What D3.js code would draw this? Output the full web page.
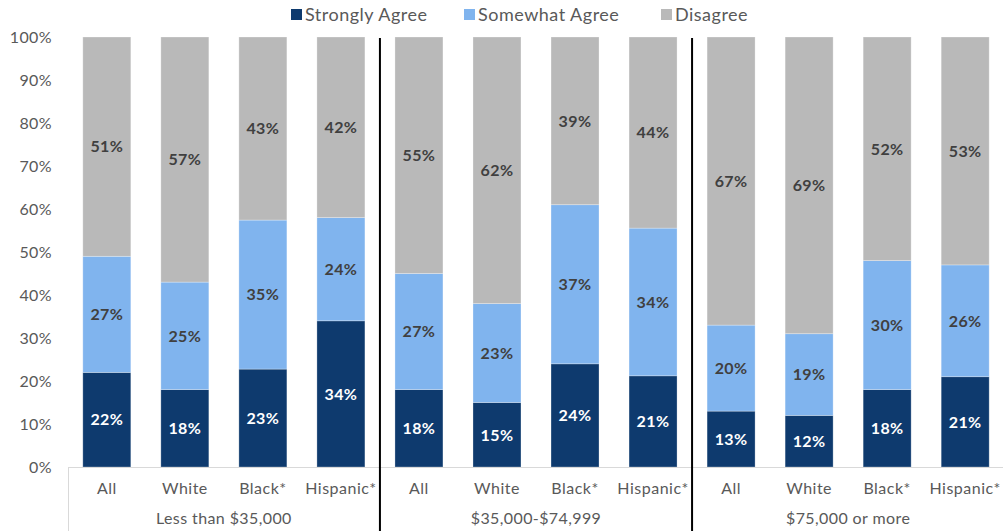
<!DOCTYPE html>
<html>
<head>
<meta charset="utf-8">
<script src="https://cdn.jsdelivr.net/npm/d3@7"></script>
<style>
  html, body { margin: 0; padding: 0; background: #fff; }
  svg { display: block; font-family: "Lato", "DejaVu Sans", sans-serif; }
</style>
</head>
<body>
<svg id="chart" width="1003" height="531"></svg>
<script>
// Survey responses by income bracket and race/ethnicity
const groups = ["Less than $35,000", "$35,000-$74,999", "$75,000 or more"];
const races = ["All", "White", "Black*", "Hispanic*"];
const seriesNames = ["Strongly Agree", "Somewhat Agree", "Disagree"];
const stronglyAgree = [22, 18, 23, 34, 18, 15, 24, 21, 13, 12, 18, 21];
const somewhatAgree = [27, 25, 35, 24, 27, 23, 37, 34, 20, 19, 30, 26];
const disagree     = [51, 57, 43, 42, 55, 62, 39, 44, 67, 69, 52, 53];
const yTicks = [0, 10, 20, 30, 40, 50, 60, 70, 80, 90, 100];

const colors = ["#0E3A6E", "#80B4EE", "#B9B9B9"];
const labelColors = ["#FFFFFF", "#404040", "#404040"];

const rows = [];
groups.forEach((g, gi) => races.forEach((r, ri) => {
  const i = gi * races.length + ri;
  rows.push({
    key: g + "|" + r, group: g, race: r,
    "Strongly Agree": stronglyAgree[i],
    "Somewhat Agree": somewhatAgree[i],
    "Disagree": disagree[i]
  });
}));

const svg = d3.select("#chart");
const margin = { left: 68, right: -1, top: 37, bottom: 64 };
const W = 1003, H = 531;
const plotBottom = H - margin.bottom;

const x = d3.scaleBand()
  .domain(rows.map(d => d.key))
  .range([margin.left, W - margin.right])
  .paddingInner(0.385)
  .paddingOuter(0.19);

const y = d3.scaleLinear().domain([0, 1]).range([plotBottom, margin.top]);

const stack = d3.stack().keys(seriesNames).offset(d3.stackOffsetExpand);
const stacked = stack(rows);

// bars
const layer = svg.append("g").selectAll("g")
  .data(stacked).join("g")
  .attr("fill", (d, i) => colors[i]);

layer.selectAll("rect")
  .data(d => d)
  .join("rect")
  .attr("x", d => x(d.data.key))
  .attr("width", x.bandwidth())
  .attr("y", d => y(d[1]))
  .attr("height", d => y(d[0]) - y(d[1]))
  .attr("stroke", "#ffffff")
  .attr("stroke-opacity", 0.35)
  .attr("stroke-width", 0.8);

// value labels
const labels = svg.append("g");
stacked.forEach((s, si) => {
  labels.selectAll(null)
    .data(s)
    .join("text")
    .attr("x", d => x(d.data.key) + x.bandwidth() / 2)
    .attr("y", d => (y(d[0]) + y(d[1])) / 2)
    .attr("dy", "0.36em")
    .attr("text-anchor", "middle")
    .attr("font-size", 16)
    .attr("font-weight", 700)
    .attr("letter-spacing", 0.4)
    .attr("fill", labelColors[si])
    .text(d => d.data[s.key] + "%");
});

// y axis labels
const yAxis = d3.axisLeft(d3.scaleLinear().domain([0, 100]).range([plotBottom, margin.top]))
  .tickValues(yTicks)
  .tickFormat(d => d + "%")
  .tickSize(0)
  .tickPadding(16);
const ya = svg.append("g").attr("transform", `translate(${margin.left},0)`).call(yAxis);
ya.select(".domain").remove();
ya.selectAll("text").attr("font-size", 16).attr("fill", "#595959")
  .attr("letter-spacing", 0.4)
  .attr("font-family", "Lato, sans-serif");

// category axis
const ax = svg.append("g");
ax.append("line")
  .attr("x1", margin.left).attr("x2", W)
  .attr("y1", plotBottom + 0.5).attr("y2", plotBottom + 0.5)
  .attr("stroke", "#D9D9D9").attr("stroke-width", 1);
ax.append("line")
  .attr("x1", margin.left + 0.5).attr("x2", margin.left + 0.5)
  .attr("y1", plotBottom).attr("y2", H)
  .attr("stroke", "#D9D9D9").attr("stroke-width", 1);

ax.selectAll("text.cat")
  .data(rows).join("text")
  .attr("class", "cat")
  .attr("x", d => x(d.key) + x.bandwidth() / 2)
  .attr("y", 494)
  .attr("text-anchor", "middle")
  .attr("font-size", 16)
  .attr("letter-spacing", 0.5)
  .attr("fill", "#595959")
  .text(d => d.race);

const step = x.step();
const groupSpan = g => {
  const keys = rows.filter(r => r.group === g).map(r => r.key);
  const x0 = x(keys[0]) - (step - x.bandwidth()) / 2;
  const x1 = x(keys[keys.length - 1]) + x.bandwidth() + (step - x.bandwidth()) / 2;
  return [x0, x1];
};

ax.selectAll("text.grp")
  .data(groups).join("text")
  .attr("class", "grp")
  .attr("x", g => d3.mean(groupSpan(g)))
  .attr("y", 524)
  .attr("text-anchor", "middle")
  .attr("font-size", 16)
  .attr("letter-spacing", 0.4)
  .attr("fill", "#595959")
  .text(g => g);

// group separators
svg.append("g").selectAll("line")
  .data(groups.slice(1)).join("line")
  .attr("x1", g => groupSpan(g)[0])
  .attr("x2", g => groupSpan(g)[0])
  .attr("y1", margin.top + 1)
  .attr("y2", H)
  .attr("stroke", "#000")
  .attr("stroke-width", 2);

// legend
const legend = svg.append("g").attr("transform", "translate(291,0)");
const legendX = [0, 173, 370];
seriesNames.forEach((n, i) => {
  const g = legend.append("g").attr("transform", `translate(${legendX[i]},0)`);
  g.append("rect").attr("x", 0).attr("y", 9).attr("width", 11).attr("height", 11).attr("fill", colors[i]);
  g.append("text").attr("x", 14).attr("y", 20.5)
    .attr("font-size", 18).attr("letter-spacing", 0.5)
    .attr("fill", "#595959").text(n);
});
</script>
</body>
</html>
